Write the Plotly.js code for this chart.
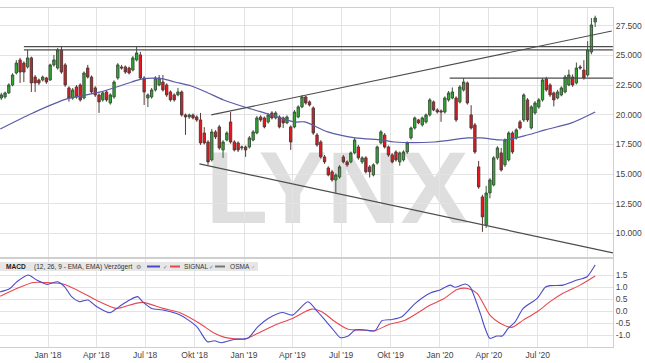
<!DOCTYPE html>
<html><head><meta charset="utf-8">
<script src="https://cdn.plot.ly/plotly-3.0.1.min.js"></script>
<style>html,body{margin:0;padding:0;background:#fff;}#chart{width:645px;height:363px;}</style>
</head><body><div id="chart"></div>
<script>
// ---- weekly OHLC ----
const firstWeek = [2017, 9, 6]; // Friday 6 Oct 2017
const open = [21410,21500,21840,22510,23520,24620,24360,24030,24790,23180,22930,22930,23100,22930,24200,23940,25460,24200,22260,21410,22340,22510,21410,23940,23180,22260,21670,21250,21920,20990,21500,23100,24030,24030,23940,23770,24620,25040,23100,21410,21500,22090,22510,22760,22510,21920,21670,21670,21920,19980,19810,19980,19810,19560,18460,17700,16190,18550,18970,17030,17870,19390,17700,17620,17200,17280,17280,17870,18460,19810,19730,19390,20150,19730,19810,19730,19310,18970,18970,19810,20660,21500,21080,20570,18290,17700,16440,15510,15180,14500,14750,16440,16020,16020,16780,17280,16020,16360,15600,14920,15930,17620,18290,17280,16610,16860,16020,16190,16860,18040,18880,19560,19140,19390,19980,21080,20400,20320,20230,21250,21410,21410,21080,22090,22680,19980,19140,15600,13070,10710,13400,14080,16360,16780,15770,16190,18460,18040,19390,19560,21250,18880,20150,20650,21250,23020,22510,21840,21410,21670,21920,22510,23180,22680,24030,23770,23350,25290,27820];
const high = [21850,21950,22650,23500,24600,24800,24500,25460,24900,23350,23050,23300,23200,24300,25040,25630,25710,24350,22400,22250,22500,22650,23650,24200,23300,22400,21800,22000,22050,21800,22900,24350,24200,24150,24050,24950,25800,25300,23250,21800,22250,23250,23350,23350,22650,22050,21800,22260,22050,20100,20100,20100,19950,20150,18950,17850,18800,18700,19140,17850,18600,20230,17850,17750,17400,17400,18200,18700,19900,19950,19850,20150,20300,20300,19950,19850,19950,19100,20400,20800,21650,21580,21200,20700,18450,17850,16600,15650,15350,15050,15750,16600,16150,16900,18040,17450,16500,16500,15750,15900,17400,18700,18450,17400,16750,17000,16900,17000,17750,19000,19850,19650,19850,20100,21400,21200,20550,20450,21550,22000,22300,21550,22500,23100,22800,20800,19300,16100,13250,14000,14650,16500,17350,17200,18000,18600,18600,18850,19550,21800,21400,20800,21150,21400,23100,23200,22650,21950,22100,22400,23350,23800,23400,24400,24200,24600,26200,28150,28350];
const low = [21250,21350,21750,22400,23400,22680,22760,23900,21920,21920,22500,22800,22600,22850,24050,23800,23450,22350,21100,21250,21350,21100,21300,23050,21750,21500,20150,21100,21100,20850,21350,22950,23800,23450,23400,23650,24500,22950,20820,20650,21350,21950,22400,21950,21500,21100,21100,21550,19850,18300,19650,19600,19400,17450,17500,15770,16050,17950,17050,16360,17750,17550,16900,16850,17000,16440,17150,17750,18350,19400,18850,19250,19600,19600,18850,18880,19200,17030,18850,19700,20550,20850,20700,18300,17300,16300,15850,14800,14350,13410,14600,15900,15600,15900,16650,16200,15850,15050,14700,14800,15800,17500,17150,16450,15900,16050,15700,16050,16700,17900,18750,19200,19000,19250,19850,20300,20100,19400,20100,21100,21300,19400,20950,21950,20850,18750,16700,13750,10120,10450,12950,13950,16200,15200,15600,16050,16700,17900,18750,19400,19400,18750,20000,20500,21100,21950,21500,20700,21300,21550,21800,22400,22350,22550,23800,22950,23200,25100,27400];
const close = [21670,21840,22510,23350,24360,23600,23600,24790,22680,22680,22680,23180,22760,24200,24620,25460,23600,22510,21410,22090,21500,21250,23520,23180,21920,21670,21080,21840,21250,21670,22760,24200,23940,23600,23520,24790,25210,23100,21920,21670,22090,23100,23100,22090,21670,21250,21250,21920,19980,19810,19980,19730,19560,17620,17620,16020,18550,18130,17200,17700,18460,17700,17030,17030,17280,17030,18040,18550,19730,19560,18970,19980,19730,20150,18970,19310,19810,17700,20230,20660,21500,20990,20820,18460,17450,16440,16020,14920,14500,14920,15600,16020,15770,16780,17870,16360,16360,15180,15180,15770,17280,18550,17280,16610,16020,16190,16780,16860,17620,18880,19730,19310,19730,19980,21250,20400,20230,20230,21410,21840,21920,19560,22340,22760,20990,18880,16860,13910,11380,13400,14500,16360,17200,15340,17870,18460,16860,18720,18880,21670,19560,20660,20990,21250,22930,22090,21670,21250,21920,22260,23180,23350,22510,23940,23940,23100,25460,27570,28150];

// ---- moving average ----
const maDates = ['2017-10-04','2017-12-04','2018-02-05','2018-04-07','2018-06-06','2018-06-26','2018-08-03','2018-08-25','2018-09-25','2018-10-26','2018-11-24','2019-01-02','2019-02-15','2019-04-05','2019-04-24','2019-06-06','2019-07-27','2019-09-15','2019-10-08','2019-12-22','2020-02-22','2020-03-18','2020-04-30','2020-06-12','2020-07-15','2020-09-02','2020-10-16'];
const maVals = [18800,20150,21330,21900,22760,23020,23020,22760,22420,21835,21245,20655,20060,19390,19390,18550,18040,17870,17700,17700,18040,18040,17870,18290,18720,19310,20230];

// ---- drawn support / resistance lines ----
const resistA = {x:['2017-11-17','2020-11-18'], y:[25740,25740]};
const resistB = {x:['2017-11-17','2020-11-18'], y:[25460,25460]};
const resistC = {x:['2020-01-19','2020-11-18'], y:[23080,23080]};
const trendUp = {x:['2018-11-01','2020-11-16'], y:[19980,27060]};
const trendDown = {x:['2018-10-10','2020-11-18'], y:[15850,8350]};

// ---- MACD ----
const macdDates = ['2017-10-04','2017-10-22','2017-11-04','2017-11-25','2017-12-11','2017-12-30','2018-01-19','2018-02-01','2018-02-14','2018-03-01','2018-03-16','2018-04-02','2018-04-26','2018-05-05','2018-05-18','2018-06-02','2018-06-17','2018-06-26','2018-07-13','2018-08-03','2018-09-04','2018-10-05','2018-10-25','2018-11-07','2018-11-20','2018-12-15','2019-01-08','2019-01-27','2019-02-15','2019-03-13','2019-04-01','2019-04-30','2019-05-18','2019-06-14','2019-06-29','2019-07-14','2019-07-27','2019-08-14','2019-09-02','2019-09-15','2019-10-04','2019-10-22','2019-11-16','2019-12-14','2020-01-01','2020-01-20','2020-01-29','2020-02-17','2020-02-26','2020-03-16','2020-03-25','2020-04-03','2020-04-16','2020-04-26','2020-05-07','2020-05-20','2020-06-04','2020-06-30','2020-07-15','2020-07-24','2020-08-17','2020-09-12','2020-09-23','2020-10-01','2020-10-16'];
const macdVals = [0.80,0.94,1.22,1.50,1.29,1.11,1.22,1.01,0.60,0.39,0.46,0.18,-0.07,0.04,0.25,0.46,0.60,0.39,0.11,0.04,-0.17,-0.65,-1.28,-1.24,-1.32,-1.18,-1.14,-0.65,-0.31,-0.06,-0.17,0.39,-0.03,-0.72,-1.10,-1.04,-0.79,-0.79,-0.82,-0.40,-0.35,-0.24,0.32,0.75,0.88,1.08,0.99,1.13,1.01,-0.10,-0.72,-1.14,-1.04,-1.04,-0.72,-0.45,0.11,0.53,0.99,1.06,1.08,1.29,1.36,1.43,1.92];
const signalDates = ['2017-10-04','2017-11-04','2017-12-04','2017-12-30','2018-02-01','2018-03-14','2018-04-07','2018-05-09','2018-06-02','2018-06-26','2018-08-03','2018-09-04','2018-10-10','2018-11-07','2018-11-26','2019-01-02','2019-01-27','2019-02-28','2019-04-01','2019-05-07','2019-05-26','2019-06-20','2019-07-14','2019-08-09','2019-09-02','2019-09-26','2019-10-28','2019-12-14','2020-01-07','2020-02-02','2020-02-22','2020-03-10','2020-04-03','2020-04-22','2020-05-14','2020-06-04','2020-06-30','2020-07-24','2020-08-17','2020-09-18','2020-10-16'];
const signalVals = [0.62,0.94,1.19,1.19,1.11,0.67,0.39,0.11,0.25,0.36,0.11,-0.07,-0.51,-0.93,-1.10,-1.17,-0.93,-0.58,-0.31,0.08,-0.03,-0.45,-0.76,-0.79,-0.82,-0.58,-0.38,0.25,0.50,0.90,0.94,0.74,-0.17,-0.51,-0.68,-0.38,-0.03,0.39,0.74,1.08,1.46];

// ---- axis ticks ----
const tickDates = ['2018-01-01','2018-04-01','2018-07-01','2018-10-01','2019-01-01','2019-04-01','2019-07-01','2019-10-01','2020-01-01','2020-04-01','2020-07-01','2020-10-01'];
const tickLabels = ["Jan '18","Apr '18","Jul '18","Okt '18","Jan '19","Apr '19","Jul '19","Okt '19","Jan '20","Apr '20","Jul '20",""];
const priceTicks = [10000,12500,15000,17500,20000,22500,25000,27500];
const priceTickText = ['10.000','12.500','15.000','17.500','20.000','22.500','25.000','27.500'];
const macdTicks = [-1.0,-0.5,0.0,0.5,1.0,1.5];
const macdTickText = ['-1.0','-0.5','0.0','0.5','1.0','1.5'];

const weeks = open.map((_, i) => new Date(Date.UTC(firstWeek[0], firstWeek[1], firstWeek[2] + 7 * i)).toISOString().slice(0, 10));
const xRange = ['2017-10-03 14:00', '2020-11-18 05:00'];

const grey = '#4d4d4d';
const data = [
  {type:'candlestick', x:weeks, open:open, high:high, low:low, close:close, xaxis:'x', yaxis:'y',
   increasing:{line:{color:'#3d553d', width:1}, fillcolor:'#2fae2f'},
   decreasing:{line:{color:'#5a3a3a', width:1}, fillcolor:'#e8161c'},
   whiskerwidth:0, hoverinfo:'skip'},
  {type:'scatter', mode:'lines', x:maDates, y:maVals, xaxis:'x', yaxis:'y', line:{color:'#5b5ba6', width:1.2, shape:'spline', smoothing:0.8}, hoverinfo:'skip'},
  {type:'scatter', mode:'lines', x:resistA.x, y:resistA.y, line:{color:grey, width:1.2}, hoverinfo:'skip'},
  {type:'scatter', mode:'lines', x:resistB.x, y:resistB.y, line:{color:grey, width:1.2}, hoverinfo:'skip'},
  {type:'scatter', mode:'lines', x:resistC.x, y:resistC.y, line:{color:grey, width:1.2}, hoverinfo:'skip'},
  {type:'scatter', mode:'lines', x:trendUp.x, y:trendUp.y, line:{color:grey, width:1.2}, hoverinfo:'skip'},
  {type:'scatter', mode:'lines', x:trendDown.x, y:trendDown.y, line:{color:grey, width:1.2}, hoverinfo:'skip'},
  {type:'scatter', mode:'lines', x:signalDates, y:signalVals, xaxis:'x2', yaxis:'y2', line:{color:'#e8474f', width:1.1, shape:'spline', smoothing:0.7}, hoverinfo:'skip'},
  {type:'scatter', mode:'lines', x:macdDates, y:macdVals, xaxis:'x2', yaxis:'y2', line:{color:'#4b4bc8', width:1.1, shape:'spline', smoothing:0.7}, hoverinfo:'skip'}
];

const gridc = '#e3e3e3', linec = '#cfcfcf';
const px = v => v / 613;                 // horizontal pixel -> paper
const py = v => (347 - v) / 339;         // vertical pixel -> paper
const hy = py(266.5);
const hf = 6.6;
const layout = {
  width:645, height:363,
  margin:{l:0, r:32, t:8, b:16},
  paper_bgcolor:'#fff', plot_bgcolor:'#fff',
  showlegend:false,
  boxgap:0.12,
  font:{family:'Liberation Sans, Arial, sans-serif', size:8, color:'#444'},
  xaxis:{anchor:'y', type:'date', range:xRange, tickvals:tickDates, showticklabels:false, ticks:'',
         showgrid:true, gridcolor:gridc, zeroline:false, showline:true, mirror:true, linecolor:linec,
         rangeslider:{visible:false}},
  yaxis:{domain:[0.2655,1], anchor:'x', side:'right', range:[8000,29000], tickvals:priceTicks, ticktext:priceTickText,
         ticks:'', showgrid:true, gridcolor:gridc, zeroline:false, showline:true, linecolor:linec,
         tickfont:{size:8.5, color:'#444'}},
  xaxis2:{anchor:'y2', type:'date', range:xRange, matches:'x', tickvals:tickDates, ticktext:tickLabels, ticks:'',
          showgrid:true, gridcolor:gridc, zeroline:false, showline:true, mirror:true, linecolor:linec,
          tickangle:0, tickfont:{size:8.5, color:'#444'}},
  yaxis2:{domain:[0,0.2596], anchor:'x2', side:'right', range:[-1.5,2.17], tickvals:macdTicks, ticktext:macdTickText,
          ticks:'', showgrid:true, gridcolor:gridc, zeroline:false, showline:true, linecolor:linec,
          tickfont:{size:8.5, color:'#444'}},
  shapes:[
    {type:'rect', xref:'paper', yref:'paper', x0:0.40, x1:0.70, y0:0.42, y1:0.58, layer:'between',
     line:{width:0}, fillcolor:'rgba(0,0,0,0)',
     label:{text:'LYNX', textposition:'middle center',
            font:{family:'Liberation Sans Narrow, Liberation Sans, Arial', size:102, color:'#dedede', weight:'bold'}}},
    {type:'rect', xref:'paper', yref:'paper', x0:0, x1:px(258), y0:py(271), y1:py(262), line:{width:0}, fillcolor:'#e6e6e6'},
    {type:'line', xref:'paper', yref:'paper', x0:px(147), x1:px(160), y0:hy, y1:hy, line:{color:'#4b4bc8', width:2}},
    {type:'line', xref:'paper', yref:'paper', x0:px(170), x1:px(180), y0:hy, y1:hy, line:{color:'#e8474f', width:2}},
    {type:'line', xref:'paper', yref:'paper', x0:px(215), x1:px(225), y0:hy, y1:hy, line:{color:'#777', width:2}}
  ],
  annotations:[
    {xref:'paper', yref:'paper', x:px(4), y:hy, xanchor:'left', yanchor:'middle', showarrow:false, text:'<b>MACD</b>', font:{size:hf, color:'#222'}},
    {xref:'paper', yref:'paper', x:px(32), y:hy, xanchor:'left', yanchor:'middle', showarrow:false, text:'(12, 26, 9 - EMA, EMA) Verzögert', font:{size:hf, color:'#333'}},
    {xref:'paper', yref:'paper', x:px(138), y:hy, xanchor:'center', yanchor:'middle', showarrow:false, text:'⚙', font:{family:'DejaVu Sans', size:6, color:'#777'}},
    {xref:'paper', yref:'paper', x:px(165), y:hy, xanchor:'center', yanchor:'middle', showarrow:false, text:'✓', font:{family:'DejaVu Sans', size:5.5, color:'#5566aa'}},
    {xref:'paper', yref:'paper', x:px(182), y:hy, xanchor:'left', yanchor:'middle', showarrow:false, text:'SIGNAL', font:{size:hf, color:'#333'}},
    {xref:'paper', yref:'paper', x:px(211), y:hy, xanchor:'center', yanchor:'middle', showarrow:false, text:'✓', font:{family:'DejaVu Sans', size:5.5, color:'#5566aa'}},
    {xref:'paper', yref:'paper', x:px(228), y:hy, xanchor:'left', yanchor:'middle', showarrow:false, text:'OSMA', font:{size:hf, color:'#333'}},
    {xref:'paper', yref:'paper', x:px(253), y:hy, xanchor:'center', yanchor:'middle', showarrow:false, text:'✓', font:{family:'DejaVu Sans', size:5.5, color:'#aaa'}}
  ]
};

Plotly.newPlot('chart', data, layout, {displayModeBar:false, staticPlot:true});
</script>
</body></html>
